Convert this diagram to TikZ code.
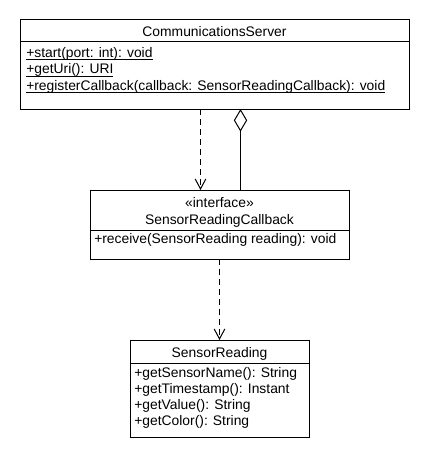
\documentclass[tikz,border=0pt]{standalone}
\usepackage{fontspec}
\setmainfont{Liberation Sans}
\usepackage{tikz}
\usetikzlibrary{calc}
\usetikzlibrary{arrows.meta}

% static member, underlined close to the baseline
\newcommand{\staticMember}[1]{\underline{\smash{#1}}}

\begin{document}
\begin{tikzpicture}[x=0.75pt, y=-0.75pt, font=\fontsize{10.4}{12}\selectfont,
	classBox/.style={draw, line width=0.75pt, inner sep=0pt, outer sep=0pt, anchor=north west},
	nameText/.style={anchor=base, inner sep=0pt},
	memberText/.style={anchor=base west, inner sep=0pt},
	dependency/.style={line width=0.75pt, dash pattern=on 4.5pt off 3pt, -{Straight Barb[length=7.5pt, width=8pt]}},
	aggregation/.style={line width=0.75pt, {Diamond[open, length=17pt, width=10pt]}-}]

	% page size
	\useasboundingbox (0,0) rectangle (430,460);

	% communications server
	\node [classBox, minimum width=291.75pt, minimum height=66.75pt] (serverBox) at (20,20) {};
	\draw [line width=0.75pt] (20,42) -- (409,42);
	\node [nameText] (serverName) at (214.5,37) {CommunicationsServer};
	\node [memberText] (serverStart) at (26,57.5) {\staticMember{+start(port: int): void}};
	\node [memberText] (serverUri) at (26,74) {\staticMember{+getUri(): URI}};
	\node [memberText] (serverRegister) at (26,90.5) {\staticMember{+registerCallback(callback: SensorReadingCallback): void}};

	% sensor reading callback
	\node [classBox, minimum width=194.25pt, minimum height=51.75pt] (callbackBox) at (90,190) {};
	\draw [line width=0.75pt] (90,230) -- (349,230);
	\node [nameText] (callbackStereo) at (219.5,207) {«interface»};
	\node [nameText] (callbackName) at (219.5,224) {SensorReadingCallback};
	\node [memberText] (callbackReceive) at (94,243) {+receive(SensorReading reading): void};

	% sensor reading
	\node [classBox, minimum width=134.25pt, minimum height=72.75pt] (readingBox) at (130,340) {};
	\draw [line width=0.75pt] (130,363) -- (309,363);
	\node [nameText] (readingName) at (219.5,357) {SensorReading};
	\node [memberText] (readingSensorName) at (134,377) {+getSensorName(): String};
	\node [memberText] (readingTimestamp) at (134,393) {+getTimestamp(): Instant};
	\node [memberText] (readingValue) at (134,409) {+getValue(): String};
	\node [memberText] (readingColor) at (134,425) {+getColor(): String};

	% server uses callback
	\coordinate (dependencyStart) at ($(serverBox.south)+(-14,0)$);
	\draw [dependency] (dependencyStart) -- (dependencyStart |- callbackBox.north);

	% server holds callback
	\coordinate (aggregationStart) at ($(serverBox.south)+(26,0)$);
	\draw [aggregation] (aggregationStart) -- (aggregationStart |- callbackBox.north);

	% callback uses reading
	\draw [dependency] (callbackBox.south) -- (readingBox.north);

\end{tikzpicture}
\end{document}
